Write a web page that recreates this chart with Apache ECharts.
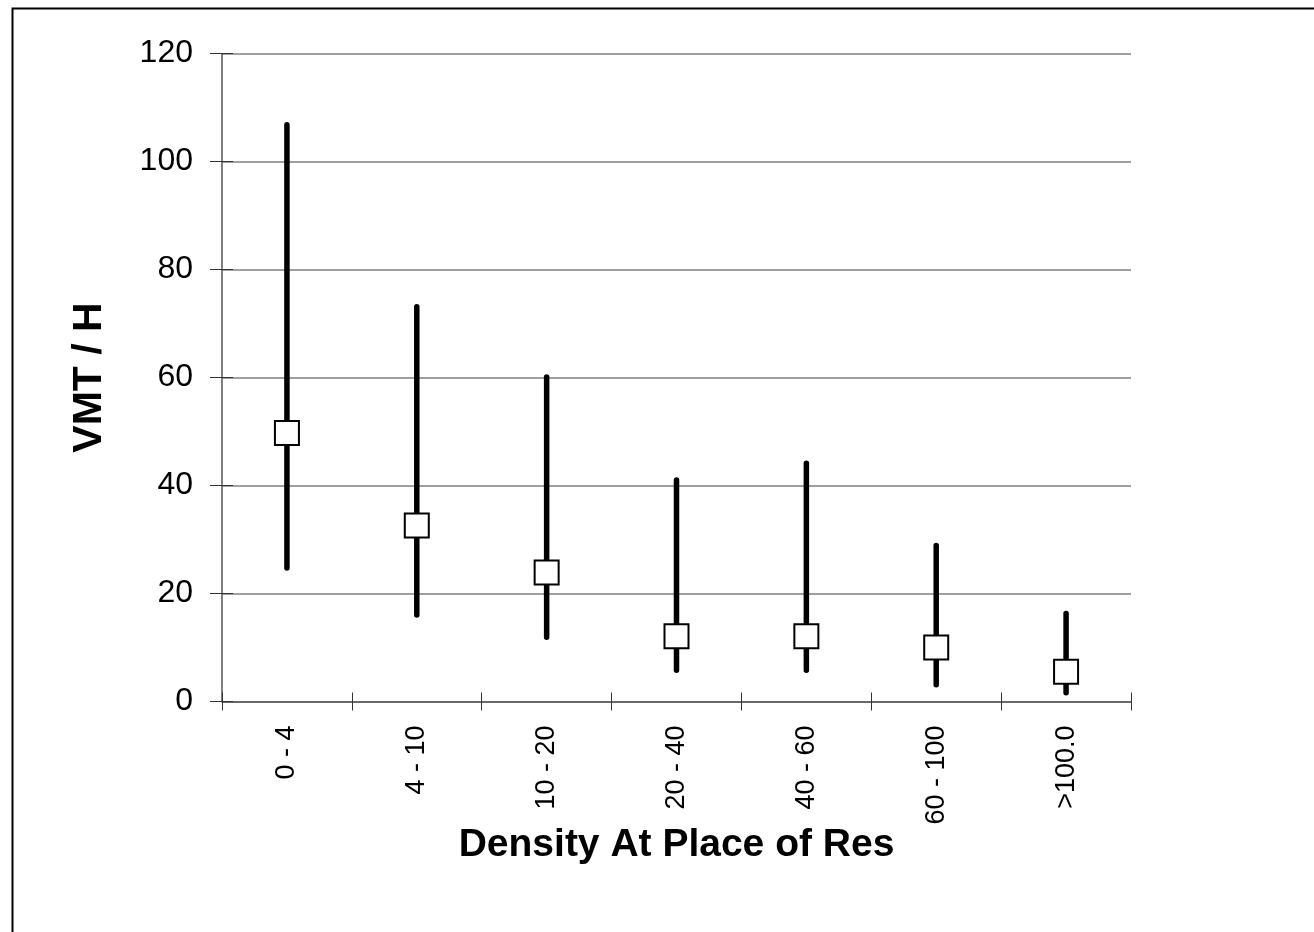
<!DOCTYPE html>
<html>
<head>
<meta charset="utf-8">
<script src="https://cdn.jsdelivr.net/npm/echarts@6/dist/echarts.min.js"></script>
<style>
  html, body { margin: 0; padding: 0; background: #fff; }
  #chart { width: 1314px; height: 932px; }
</style>
</head>
<body>
<div id="chart"></div>
<script>
// density bands at place of residence
const categories = ['0 - 4', '4 - 10', '10 - 20', '20 - 40', '40 - 60', '60 - 100', '>100.0'];
// VMT per household: low / high range and central value
const lowValues = [24.7, 16.0, 11.9, 5.8, 5.8, 3.1, 1.6];
const highValues = [106.8, 73.1, 60.1, 41.0, 44.1, 28.9, 16.3];
const midValues = [49.7, 32.6, 23.9, 12.1, 12.1, 10.0, 5.5];
const yTicks = [0, 20, 40, 60, 80, 100, 120];

const myChart = echarts.init(document.getElementById('chart'));

const fontFamily = '"Liberation Sans", Arial, sans-serif';
const rangeData = categories.map((c, i) => [i, lowValues[i], highValues[i]]);

const option = {
  animation: false,
  backgroundColor: '#fff',
  graphic: [
    {
      type: 'rect',
      left: 10,
      top: 6,
      shape: { width: 1400, height: 1000 },
      style: { fill: 'none', stroke: '#000', lineWidth: 2 },
      silent: true,
    },
  ],
  grid: {
    left: 222,
    right: 183,
    top: 53.5,
    bottom: 230.5,
  },
  xAxis: [
    {
      type: 'category',
      data: categories,
      name: 'Density At Place of Res',
      nameLocation: 'middle',
      nameGap: 124,
      nameMoveOverlap: false,
      nameTextStyle: {
        fontFamily: fontFamily,
        fontSize: 39,
        fontWeight: 'bold',
        color: '#000',
      },
      axisLine: { lineStyle: { color: '#555', width: 1.5 } },
      axisTick: { show: true, inside: false, length: 9, lineStyle: { color: '#333' } },
      axisLabel: {
        rotate: 90,
        margin: 24,
        fontFamily: fontFamily,
        fontSize: 27,
        color: '#000',
      },
      splitLine: { show: false },
    },
    {
      // inner half of the crossing ticks
      type: 'category',
      data: categories,
      position: 'bottom',
      axisLine: { show: false },
      axisTick: { show: true, inside: true, length: 9, lineStyle: { color: '#333' } },
      axisLabel: { show: false },
      splitLine: { show: false },
    },
  ],
  yAxis: [
    {
      type: 'value',
      min: yTicks[0],
      max: yTicks[yTicks.length - 1],
      interval: 20,
      name: 'VMT / H',
      nameLocation: 'middle',
      nameRotate: 90,
      nameGap: 112,
      nameMoveOverlap: false,
      nameTextStyle: {
        fontFamily: fontFamily,
        fontSize: 41,
        fontWeight: 'bold',
        color: '#000',
      },
      axisLine: { show: true, lineStyle: { color: '#555', width: 1.5 } },
      axisTick: { show: true, inside: false, length: 12, lineStyle: { color: '#333' } },
      axisLabel: {
        margin: 29,
        fontFamily: fontFamily,
        fontSize: 32,
        color: '#000',
      },
      splitLine: { show: true, lineStyle: { color: '#808080', width: 1.5 } },
    },
    {
      type: 'value',
      min: yTicks[0],
      max: yTicks[yTicks.length - 1],
      interval: 20,
      position: 'left',
      axisLine: { show: false },
      axisTick: { show: true, inside: true, length: 11, lineStyle: { color: '#333' } },
      axisLabel: { show: false },
      splitLine: { show: false },
    },
  ],
  series: [
    {
      name: 'range',
      type: 'custom',
      xAxisIndex: 0,
      yAxisIndex: 0,
      data: rangeData,
      encode: { x: 0, y: [1, 2] },
      renderItem: function (params, api) {
        const lo = api.coord([api.value(0), api.value(1)]);
        const hi = api.coord([api.value(0), api.value(2)]);
        return {
          type: 'line',
          shape: { x1: lo[0], y1: lo[1], x2: hi[0], y2: hi[1] },
          style: { stroke: '#000', lineWidth: 5.5, lineCap: 'round' },
        };
      },
      z: 2,
    },
    {
      name: 'mid',
      type: 'scatter',
      xAxisIndex: 0,
      yAxisIndex: 0,
      data: midValues,
      symbol: 'rect',
      symbolSize: 24,
      itemStyle: { color: '#fff', borderColor: '#000', borderWidth: 2, opacity: 1 },
      z: 3,
    },
  ],
};
myChart.setOption(option);
window.addEventListener('resize', myChart.resize);
</script>
</body>
</html>
